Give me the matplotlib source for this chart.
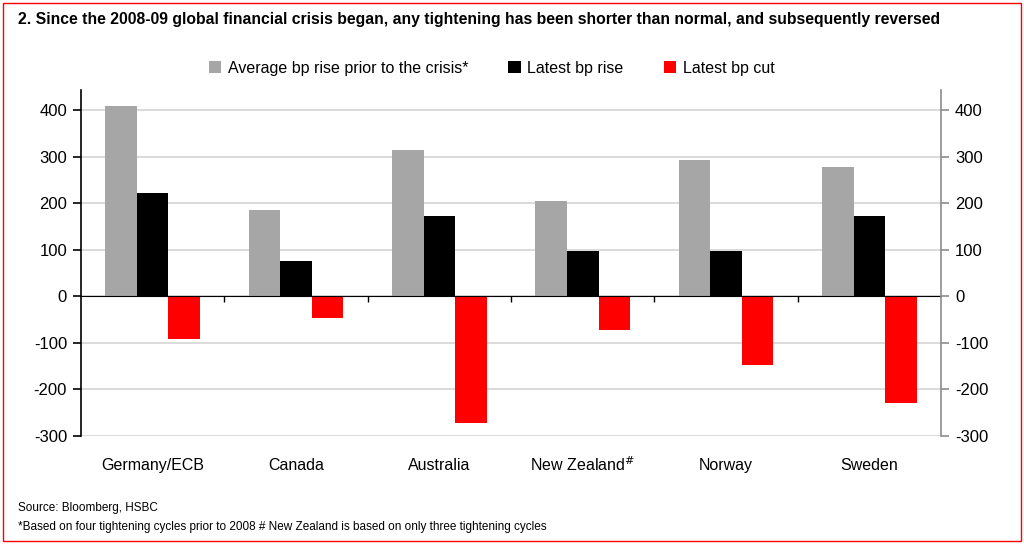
import numpy as np
import matplotlib
matplotlib.use("Agg")
import matplotlib.pyplot as plt
from matplotlib.patches import Rectangle
from matplotlib.transforms import blended_transform_factory

plt.rcParams['font.family'] = ['Liberation Sans', 'DejaVu Sans']
plt.rcParams['axes.unicode_minus'] = False

# data (bp)
countries = ['Germany/ECB', 'Canada', 'Australia', 'New Zealand$^{\\#}$', 'Norway', 'Sweden']
avg_rise = [409, 185, 314, 205, 293, 277]
latest_rise = [222, 76, 172, 98, 98, 172]
latest_cut = [-93, -47, -272, -72, -148, -230]
series_names = ['Average bp rise prior to the crisis*', 'Latest bp rise', 'Latest bp cut']
colors = ['#a6a6a6', '#000000', '#ff0000']
yticks = [-300, -200, -100, 0, 100, 200, 300, 400]

fig = plt.figure(figsize=(10.24, 5.44), dpi=100)
ax = fig.add_axes([0.0791, 0.199, 0.840, 0.6356])

x = np.arange(len(countries))
w = 0.22
for i, (vals, name, c) in enumerate(zip([avg_rise, latest_rise, latest_cut], series_names, colors)):
    ax.bar(x + (i - 1) * w, vals, w, color=c, label=name, zorder=3)

ax.set_xlim(-0.5, len(countries) - 0.5)
ax.set_ylim(-300, 443)
ax.set_yticks(yticks)
ax.yaxis.grid(True, color='#d4d4d4', linewidth=1.2, zorder=0)
ax.set_axisbelow(True)

# zero line with category dividers
ax.spines['bottom'].set_position(('data', 0))
ax.spines['bottom'].set_zorder(4)
ax.spines['top'].set_visible(False)
ax.spines['right'].set_visible(False)
ax.spines['left'].set_linewidth(1.2)
ax.set_xticks(x[:-1] + 0.5)
ax.set_xticklabels([])
ax.tick_params(axis='x', direction='out', length=4, width=1)
ax.tick_params(axis='y', direction='out', length=6, width=1.2, labelsize=12, pad=4)

trans = blended_transform_factory(ax.transData, ax.transAxes)
for xi, name in zip(x, countries):
    ax.text(xi, -0.085, name, transform=trans, ha='center', va='center', fontsize=11.5)

ax2 = ax.twinx()
ax2.set_ylim(ax.get_ylim())
ax2.set_yticks(yticks)
for s in ['top', 'left', 'bottom']:
    ax2.spines[s].set_visible(False)
ax2.spines['right'].set_color('#8c8c8c')
ax2.spines['right'].set_linewidth(1.2)
ax2.tick_params(axis='y', direction='out', length=6, width=1.2, color='#8c8c8c', labelsize=12, pad=4)

fig.text(0.018, 0.965, '2. Since the 2008-09 global financial crisis began, any tightening has been shorter than normal, and subsequently reversed',
         fontsize=11.3, fontweight='bold', ha='left', va='center')

fig.legend(loc='center', bbox_to_anchor=(0.48, 0.875), ncol=3, frameon=False, fontsize=11.5,
           handlelength=0.8, handleheight=0.8, handletextpad=0.4, columnspacing=2.5)

fig.text(0.018, 0.067, 'Source: Bloomberg, HSBC', fontsize=8.5, ha='left', va='center')
fig.text(0.018, 0.031, '*Based on four tightening cycles prior to 2008 # New Zealand is based on only three tightening cycles',
         fontsize=8.5, ha='left', va='center')

fig.patches.append(Rectangle((0.003, 0.005), 0.994, 0.99, transform=fig.transFigure,
                             fill=False, edgecolor='#ff0000', linewidth=1))

fig.savefig('out.png', dpi=100)
